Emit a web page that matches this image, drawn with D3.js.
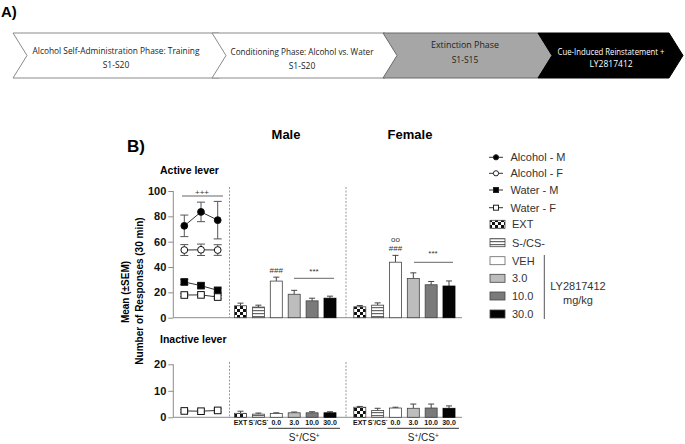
<!DOCTYPE html>
<html><head><meta charset="utf-8">
<script src="https://cdn.jsdelivr.net/npm/d3@7"></script>
<style>body{margin:0;background:#fff}svg{display:block}</style>
</head><body>
<svg id="c" width="685" height="444"></svg>
<script>
// ---------- data ----------
const phases = [
  {l1:"Alcohol Self-Administration Phase: Training", l2:"S1-S20"},
  {l1:"Conditioning Phase: Alcohol vs. Water", l2:"S1-S20"},
  {l1:"Extinction Phase", l2:"S1-S15"},
  {l1:"Cue-Induced Reinstatement +", l2:"LY2817412"}
];
const sessions = ["1","2","3"];
const alcM = [72.5, 83.5, 77];       const alcMErr = [8.5, 7.7, 14.8];
const alcF = [53.4, 53.6, 53.4];     const alcFErr = [4.3, 4.5, 4.2];
const watM = [28.2, 25.3, 21.6];     const watMErr = [2.0, 1.8, 1.8];
const watF = [17.9, 18.0, 16.3];     const watFErr = [1.2, 1.2, 1.2];
const inactL = [2.4, 2.3, 2.6];      const inactLErr = [0.5, 0.5, 0.6];
const groups = ["EXT","S-/CS-","0.0","3.0","10.0","30.0"];
const maleActive   = [9.4, 8.4, 28.9, 18.5, 13.3, 15.4];
const maleActiveE  = [2.1, 1.5, 3.1, 3.1, 2.1, 1.6];
const femActive    = [8.6, 9.9, 43.8, 31.0, 26.0, 25.0];
const femActiveE   = [1.0, 1.8, 5.4, 4.4, 2.6, 4.0];
const maleInact    = [1.5, 1.2, 1.4, 1.7, 1.7, 1.7];
const maleInactE   = [0.8, 0.4, 0.3, 0.3, 0.4, 0.4];
const femInact     = [3.8, 2.6, 3.5, 3.4, 3.5, 3.4];
const femInactE    = [0.3, 0.8, 0.3, 1.6, 1.5, 0.9];
const topTicks = [0,20,40,60,80,100];
const botTicks = [0,10,20];
const legendLines = ["Alcohol - M","Alcohol - F","Water - M","Water - F"];
const legendBars = ["EXT","S-/CS-","VEH","3.0","10.0","30.0"];

// ---------- setup ----------
const svg = d3.select("#c");
const FONT = "Liberation Sans, Arial, sans-serif";
const defs = svg.append("defs");
const chk = defs.append("pattern").attr("id","chk").attr("patternUnits","userSpaceOnUse").attr("width",6).attr("height",6);
chk.append("rect").attr("width",6).attr("height",6).attr("fill","#fff");
chk.append("rect").attr("width",3).attr("height",3).attr("fill","#111");
chk.append("rect").attr("x",3).attr("y",3).attr("width",3).attr("height",3).attr("fill","#111");
const str = defs.append("pattern").attr("id","str").attr("patternUnits","userSpaceOnUse").attr("width",4).attr("height",3);
str.append("rect").attr("width",4).attr("height",3).attr("fill","#fff");
str.append("rect").attr("y",1).attr("width",4).attr("height",1.2).attr("fill","#666");
const fills = ["url(#chk)","url(#str)","#ffffff","#bdbdbd","#7a7a7a","#050505"];

// ---------- timeline (A) ----------
svg.append("text").attr("x",1).attr("y",17).attr("font-family",FONT).attr("font-weight","bold").attr("font-size",15).text("A)");
const arrows = [
  {x0:13, x1:219, fill:"#fff", stroke:"#8a8a8a", tc:"#222", cx:116, y1:51, y2:65, w1:167},
  {x0:212, x1:385, fill:"#fff", stroke:"#8a8a8a", tc:"#222", cx:302, y1:52, y2:66, w1:143},
  {x0:383, x1:538, fill:"#a6a6a6", stroke:"#6a6a6a", tc:"#222", cx:465, y1:45, y2:60, w1:68},
  {x0:538, x1:669, fill:"#000", stroke:"#000", tc:"#fff", cx:611, y1:52, y2:64, w1:107}
];
const aTop = 33, aBot = 78, aMid = (aTop+aBot)/2, d = 14;
arrows.forEach((a,i)=>{
  const p = [[a.x0,aTop],[a.x1,aTop],[a.x1+d,aMid],[a.x1,aBot],[a.x0,aBot],[a.x0+d,aMid]];
  svg.append("path").attr("d", d3.line()(p)+"Z").attr("fill",a.fill).attr("stroke",a.stroke).attr("stroke-width",1);
  const t = svg.append("g").attr("font-family","Open Sans, sans-serif").attr("font-size",8.5).attr("fill",a.tc).attr("text-anchor","middle");
  t.append("text").attr("x",a.cx).attr("y",a.y1+3).attr("textLength",a.w1).attr("lengthAdjust","spacingAndGlyphs").text(phases[i].l1);
  t.append("text").attr("x",a.cx).attr("y",a.y2+3).text(phases[i].l2);
});

// ---------- panel B ----------
svg.append("text").attr("x",127).attr("y",152).attr("font-family",FONT).attr("font-weight","bold").attr("font-size",17).text("B)");
svg.append("text").attr("x",286).attr("y",139).attr("text-anchor","middle").attr("font-family",FONT).attr("font-weight","bold").attr("font-size",13).text("Male");
svg.append("text").attr("x",410).attr("y",139).attr("text-anchor","middle").attr("font-family",FONT).attr("font-weight","bold").attr("font-size",13).text("Female");
svg.append("text").attr("x",160).attr("y",174).attr("font-family",FONT).attr("font-weight","bold").attr("font-size",10.5).text("Active lever");
svg.append("text").attr("x",160).attr("y",343).attr("font-family",FONT).attr("font-weight","bold").attr("font-size",10.5).text("Inactive lever");
const yt = svg.append("g").attr("font-family",FONT).attr("font-weight","bold").attr("font-size",10).attr("text-anchor","middle");
yt.append("text").attr("transform","translate(129,292) rotate(-90)").text("Mean (±SEM)");
yt.append("text").attr("transform","translate(143,291) rotate(-90)").text("Number of Responses (30 min)");

const axX = 173.3, xEnd = 462;
const yTop = d3.scaleLinear().domain([0,100]).range([317.7,191]);
const yBot = d3.scaleLinear().domain([0,20]).range([417.3,364.3]);
const xPts = d3.scalePoint().domain(sessions).range([184.3,217.7]);
const xMale = d3.scalePoint().domain(groups).range([240.5,330]);
const xFem = d3.scalePoint().domain(groups).range([359.8,449]);
const AXC = "#8c8c8c";

function drawAxis(y, ticks){
  const g = svg.append("g").attr("transform",`translate(${axX},0)`)
    .call(d3.axisLeft(y).tickValues(ticks).tickSize(5).tickPadding(2).tickFormat(d3.format("d")));
  g.select(".domain").attr("stroke",AXC).attr("d",`M0,${y.range()[0]}V${y.range()[1]}`);
  g.selectAll(".tick line").attr("stroke",AXC);
  g.selectAll(".tick text").attr("font-family",FONT).attr("font-weight","bold").attr("font-size",11).attr("fill","#111");
  svg.append("line").attr("x1",axX).attr("x2",xEnd).attr("y1",y(0)).attr("y2",y(0)).attr("stroke",AXC);
}
drawAxis(yTop, topTicks);
drawAxis(yBot, botTicks);

// dashed separators
[229.5, 346].forEach(x=>{
  svg.append("line").attr("x1",x).attr("x2",x).attr("y1",187).attr("y2",yTop(0)).attr("stroke","#999").attr("stroke-dasharray","2,1.5");
  svg.append("line").attr("x1",x).attr("x2",x).attr("y1",362).attr("y2",yBot(0)).attr("stroke","#999").attr("stroke-dasharray","2,1.5");
});

// line series
function series(vals, errs, y, shape, fill){
  const g = svg.append("g");
  vals.forEach((v,i)=>{
    const x = xPts(sessions[i]);
    g.append("line").attr("x1",x).attr("x2",x).attr("y1",y(v-errs[i])).attr("y2",y(v+errs[i])).attr("stroke","#555");
    [v-errs[i], v+errs[i]].forEach(e=>g.append("line").attr("x1",x-4).attr("x2",x+4).attr("y1",y(e)).attr("y2",y(e)).attr("stroke","#555"));
  });
  g.append("path").attr("d", d3.line().x((v,i)=>xPts(sessions[i])).y(v=>y(v))(vals)).attr("fill","none").attr("stroke","#333");
  vals.forEach((v,i)=>{
    const x = xPts(sessions[i]);
    if(shape==="c") g.append("circle").attr("cx",x).attr("cy",y(v)).attr("r",3.4).attr("fill",fill).attr("stroke","#111");
    else g.append("rect").attr("x",x-3.3).attr("y",y(v)-3.3).attr("width",6.6).attr("height",6.6).attr("fill",fill).attr("stroke","#111");
  });
}
series(alcM, alcMErr, yTop, "c", "#000");
series(alcF, alcFErr, yTop, "c", "#fff");
series(watM, watMErr, yTop, "s", "#000");
series(watF, watFErr, yTop, "s", "#fff");
series(inactL, inactLErr, yBot, "s", "#fff");

// bars
function bars(x, vals, errs, y){
  const g = svg.append("g");
  vals.forEach((v,i)=>{
    const cx = x(groups[i]);
    g.append("line").attr("x1",cx).attr("x2",cx).attr("y1",y(v)).attr("y2",y(v+errs[i])).attr("stroke","#444");
    g.append("line").attr("x1",cx-3).attr("x2",cx+3).attr("y1",y(v+errs[i])).attr("y2",y(v+errs[i])).attr("stroke","#444");
    g.append("rect").attr("x",cx-6).attr("y",y(v)).attr("width",12).attr("height",y(0)-y(v))
      .attr("fill",fills[i]).attr("stroke", i===5?"#000":"#444").attr("stroke-width",0.8);
  });
}
bars(xMale, maleActive, maleActiveE, yTop);
bars(xFem, femActive, femActiveE, yTop);
bars(xMale, maleInact, maleInactE, yBot);
bars(xFem, femInact, femInactE, yBot);

// annotations
const ann = svg.append("g").attr("font-family",FONT).attr("font-size",8).attr("fill","#333").attr("text-anchor","middle");
ann.append("text").attr("x",202).attr("y",194.5).text("+++");
svg.append("line").attr("x1",182).attr("x2",223).attr("y1",196).attr("y2",196).attr("stroke","#666");
ann.append("text").attr("x",xMale("0.0")).attr("y",272.5).text("###");
ann.append("text").attr("x",314).attr("y",273.5).text("***");
svg.append("line").attr("x1",294).attr("x2",334).attr("y1",278.3).attr("y2",278.3).attr("stroke","#666");
ann.append("text").attr("x",xFem("0.0")).attr("y",241.5).text("oo");
ann.append("text").attr("x",xFem("0.0")).attr("y",250.5).text("###");
ann.append("text").attr("x",433).attr("y",256).text("***");
svg.append("line").attr("x1",414).attr("x2",453).attr("y1",262.3).attr("y2",262.3).attr("stroke","#666");

// x labels
[xMale, xFem].forEach(x=>{
  const g = svg.append("g").attr("font-family",FONT).attr("font-weight","bold").attr("font-size",7).attr("fill","#111").attr("text-anchor","middle");
  groups.forEach(gr=>{
    const t = g.append("text").attr("x",x(gr)).attr("y",424.5);
    if(gr==="S-/CS-"){
      t.append("tspan").text("S");
      t.append("tspan").attr("dy",-2.5).attr("font-size",5).text("-");
      t.append("tspan").attr("dy",2.5).text("/CS");
      t.append("tspan").attr("dy",-2.5).attr("font-size",5).text("-");
    } else t.text(gr);
  });
  const x0 = x("0.0")-8, x1 = x("30.0")+10;
  svg.append("line").attr("x1",x0).attr("x2",x1).attr("y1",428.3).attr("y2",428.3).attr("stroke","#333");
  const s = svg.append("text").attr("x",(x0+x1)/2).attr("y",441).attr("text-anchor","middle").attr("font-family",FONT).attr("font-size",10).attr("fill","#222");
  s.append("tspan").text("S");
  s.append("tspan").attr("dy",-3.5).attr("font-size",6.5).text("+");
  s.append("tspan").attr("dy",3.5).text("/CS");
  s.append("tspan").attr("dy",-3.5).attr("font-size",6.5).text("+");
});

// legend
const lg = svg.append("g").attr("font-family",FONT).attr("font-size",11).attr("fill","#333");
const lineY = [157.3,173.3,190,207.7];
legendLines.forEach((l,i)=>{
  const y = lineY[i];
  lg.append("line").attr("x1",489).attr("x2",503).attr("y1",y).attr("y2",y).attr("stroke","#333");
  const f = (i%2===0)?"#000":"#fff";
  if(i<2) lg.append("circle").attr("cx",496).attr("cy",y).attr("r",2.6).attr("fill",f).attr("stroke","#222");
  else lg.append("rect").attr("x",493.5).attr("y",y-2.5).attr("width",5).attr("height",5).attr("fill",f).attr("stroke","#222");
  lg.append("text").attr("x",510.5).attr("y",y+4).text(l);
});
const barY = [224.3,242.7,260.7,278.3,296,314];
legendBars.forEach((l,i)=>{
  const y = barY[i];
  lg.append("rect").attr("x",490).attr("y",y-4).attr("width",15).attr("height",8).attr("fill",fills[i]).attr("stroke",i===2?"#666":"#444").attr("stroke-width",0.8);
  lg.append("text").attr("x",512).attr("y",y+4).text(l);
});
lg.append("line").attr("x1",544.3).attr("x2",544.3).attr("y1",255).attr("y2",319).attr("stroke","#555");
lg.append("text").attr("x",578).attr("y",289.5).attr("text-anchor","middle").text("LY2817412");
lg.append("text").attr("x",578).attr("y",304).attr("text-anchor","middle").text("mg/kg");
</script>
</body></html>
